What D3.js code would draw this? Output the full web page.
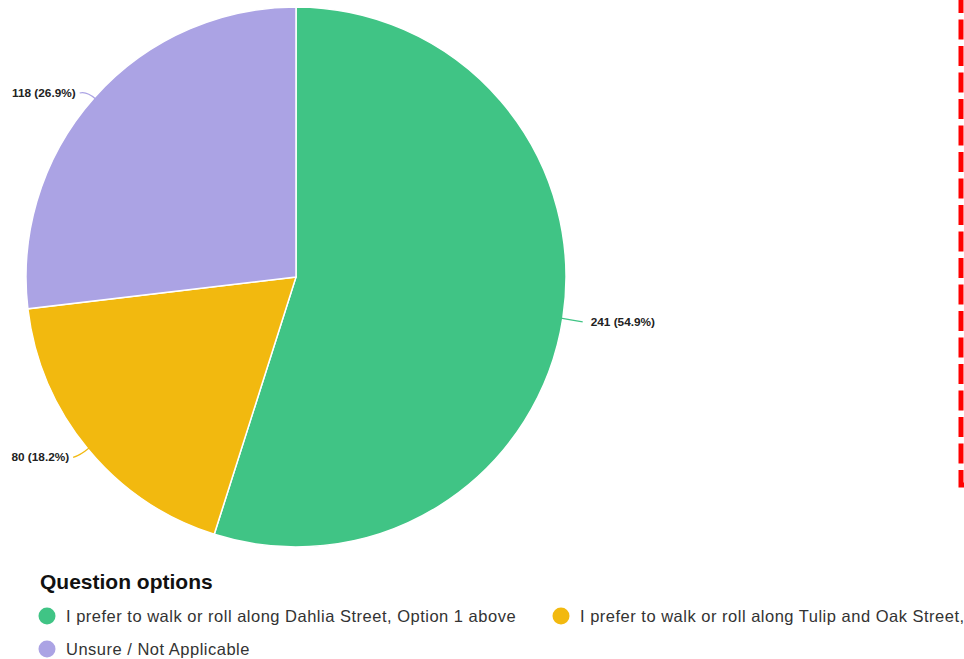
<!DOCTYPE html>
<html>
<head>
<meta charset="utf-8">
<script src="https://cdn.jsdelivr.net/npm/d3@7"></script>
<style>
  html, body { margin: 0; padding: 0; background: #fff; overflow: hidden; }
  svg { display: block; font-family: "Liberation Sans", Arial, Helvetica, sans-serif; }
</style>
</head>
<body>
<svg id="scene" width="964" height="659"></svg>
<script>
// ---------- 資料 ----------
// 第二項在原圖右側被裁切，只保留看得到的文字
const categories = [
  'I prefer to walk or roll along Dahlia Street, Option 1 above',
  'I prefer to walk or roll along Tulip and Oak Street,',
  'Unsure / Not Applicable'
];
const counts = [241, 80, 118];
const percents = ['54.9%', '18.2%', '26.9%'];
const colors = ['#40c485', '#f2b90f', '#aba3e4'];

const legendTitle = 'Question options';

// ---------- 畫布 ----------
const W = 964, H = 659;
const svg = d3.select('#scene').attr('width', W).attr('height', H);

const cx = 296, cy = 277, R = 270;

const data = categories.map((c, i) => ({ label: c, value: counts[i], pct: percents[i], color: colors[i] }));

const pie = d3.pie().sort(null).value(d => d.value);
const arc = d3.arc().innerRadius(0).outerRadius(R);
const arcs = pie(data);

const g = svg.append('g').attr('transform', `translate(${cx},${cy})`);

g.selectAll('path.slice')
  .data(arcs)
  .join('path')
  .attr('class', 'slice')
  .attr('d', arc)
  .attr('fill', d => d.data.color)
  .attr('stroke', '#fff')
  .attr('stroke-width', 1.5);

// 標籤 + 引導線
const pt = (a, r) => [Math.sin(a) * r, -Math.cos(a) * r];
arcs.forEach(d => {
  const mid = (d.startAngle + d.endAngle) / 2;
  const side = Math.sin(mid) >= 0 ? 1 : -1;
  const p0 = pt(mid, R - 2);
  const p1 = pt(mid, R + 10);
  const p2 = [p1[0] + side * (side > 0 ? 10 : 7), p1[1] + 2];
  g.append('path')
    .attr('d', `M${p0[0]},${p0[1]} Q${p1[0]},${p1[1]} ${p2[0]},${p2[1]}`)
    .attr('fill', 'none')
    .attr('stroke', d.data.color)
    .attr('stroke-width', 1.2);
  g.append('text')
    .attr('x', p2[0] + side * (side > 0 ? 8 : 4))
    .attr('y', p2[1])
    .attr('dy', '0.35em')
    .attr('text-anchor', side > 0 ? 'start' : 'end')
    .attr('font-size', 11.8)
    .attr('font-weight', 'bold')
    .attr('fill', '#222')
    .text(`${d.data.value} (${d.data.pct})`);
});

// ---------- 圖例 ----------
svg.append('text')
  .attr('x', 40).attr('y', 589)
  .attr('font-size', 21)
  .attr('font-weight', 'bold')
  .attr('fill', '#111')
  .text(legendTitle);

const legendPos = [
  { x: 47, y: 616 },
  { x: 561, y: 616 },
  { x: 47, y: 649 }
];
const items = svg.selectAll('g.legend')
  .data(data)
  .join('g')
  .attr('class', 'legend')
  .attr('transform', (d, i) => `translate(${legendPos[i].x},${legendPos[i].y})`);
items.append('circle').attr('r', 8.5).attr('fill', d => d.color);
items.append('text')
  .attr('x', 19).attr('y', 6)
  .attr('font-size', 16.5)
  .attr('letter-spacing', 0.5)
  .attr('fill', '#333')
  .text(d => d.label);

// ---------- 紅色虛線框 ----------
svg.append('path')
  .attr('d', `M961,-7 L961,485 L990,485`)
  .attr('fill', 'none')
  .attr('stroke', '#ff0000')
  .attr('stroke-width', 5)
  .attr('stroke-dasharray', '20,6.5');
</script>
</body>
</html>
